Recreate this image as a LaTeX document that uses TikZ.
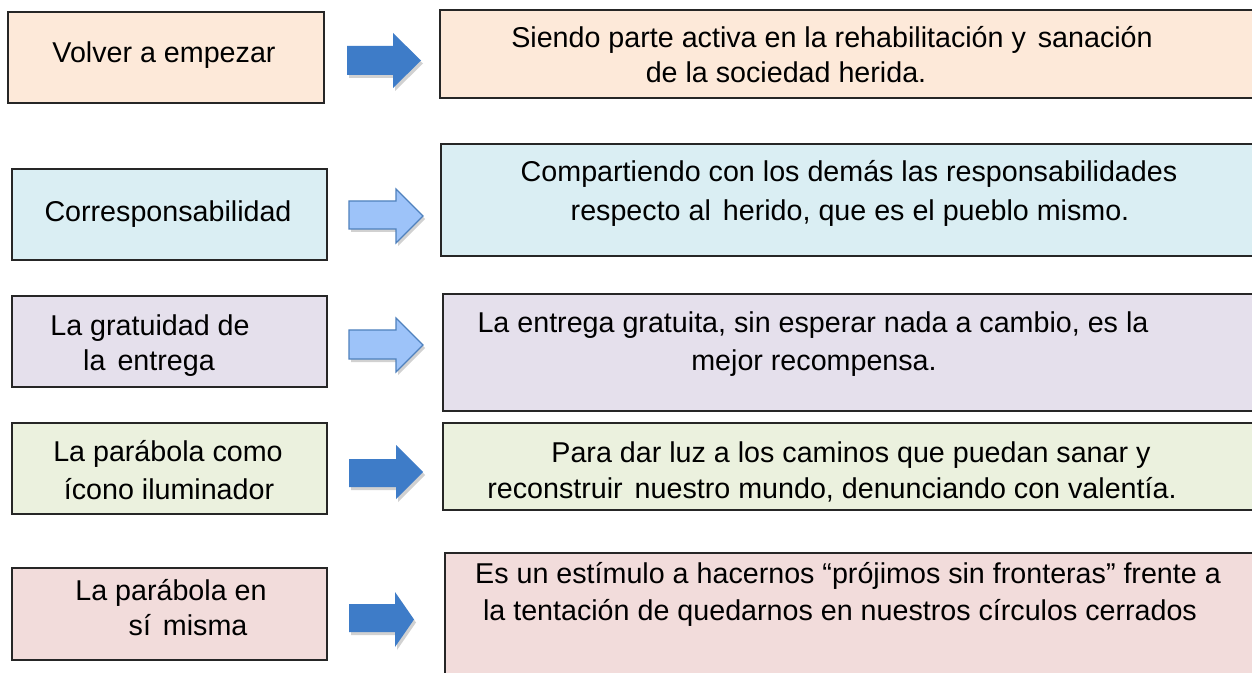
\documentclass[tikz,border=0pt]{standalone}
\usepackage{fontspec}
\setmainfont{Liberation Sans}
\usetikzlibrary{fit}
\definecolor{peach}{HTML}{FDE9D9}
\definecolor{paleblue}{HTML}{DAEEF3}
\definecolor{lavender}{HTML}{E5E0EC}
\definecolor{palegreen}{HTML}{EBF1DE}
\definecolor{palepink}{HTML}{F2DCDB}
\definecolor{darkarrow}{HTML}{3E7CC8}
\definecolor{lightarrow}{HTML}{9DC3F9}
\definecolor{arrowedge}{HTML}{4F81BD}
\definecolor{boxedge}{HTML}{262626}
\tikzset{
  box/.style={draw=boxedge, line width=1.1pt, inner sep=0pt, rectangle},
  txt/.style={anchor=base, inner sep=0pt, font=\fontsize{21.5pt}{26pt}\selectfont, text=black},
  darrow/.style={fill=darkarrow, draw=none},
  larrow/.style={fill=lightarrow, draw=arrowedge, line width=0.9pt, line join=miter},
  ashadow/.style={fill=black, opacity=0.18, draw=none}
}
\newcommand\wsp{\ \hspace{3pt}}
% #1 shaft left, #2 head base, #3 tip, #4 shaft top, #5 shaft bottom, #6 head top, #7 head bottom
\newcommand\myblockarrow[8]{%
  \path[ashadow] (#1+2,#4+3) -- (#2+2,#4+3) -- (#2+2,#6+3) -- (#3+2,{(#6+#7)/2+3}) -- (#2+2,#7+3) -- (#2+2,#5+3) -- (#1+2,#5+3) -- cycle;
  \path[#8] (#1,#4) -- (#2,#4) -- (#2,#6) -- (#3,{(#6+#7)/2}) -- (#2,#7) -- (#2,#5) -- (#1,#5) -- cycle;
}
\begin{document}
\begin{tikzpicture}[x=0.75pt,y=-0.75pt]
\useasboundingbox (0,0) rectangle (1252,673);
\fill[white] (0,0) rectangle (1252,673);

% Row 1
\node[box, fill=peach, fit={(8,12) (324,103)}] (L1) {};
\node[box, fill=peach, fit={(440,10) (1262,98)}] (R1) {};
\node[txt] (L1a) at (164,63) {Volver a empezar};
\node[txt] (R1a) at (832,48) {Siendo parte activa en la rehabilitación y\wsp sanación};
\node[txt] (R1b) at (786,83) {de la sociedad herida.};
\myblockarrow{347}{393}{421}{46}{75}{33}{88}{darrow}

% Row 2
\node[box, fill=paleblue, fit={(12,169) (327,260)}] (L2) {};
\node[box, fill=paleblue, fit={(441,144) (1262,256)}] (R2) {};
\node[txt] (L2a) at (168,222) {Corresponsabilidad};
\node[txt] (R2a) at (849,182) {Compartiendo con los demás las responsabilidades};
\node[txt] (R2b) at (850,221) {respecto al\wsp herido, que es el pueblo mismo.};
\myblockarrow{349}{396}{423}{201}{229}{189}{243}{larrow}

% Row 3
\node[box, fill=lavender, fit={(12,296) (327,387)}] (L3) {};
\node[box, fill=lavender, fit={(443,294) (1262,411)}] (R3) {};
\node[txt] (L3a) at (150,335) {La gratuidad de};
\node[txt] (L3b) at (149,370) {la\wsp entrega};
\node[txt] (R3a) at (813,333) {La entrega gratuita, sin esperar nada a cambio, es la};
\node[txt] (R3b) at (814,370) {mejor recompensa.};
\myblockarrow{349}{396}{423}{330}{359}{318}{372}{larrow}

% Row 4
\node[box, fill=palegreen, fit={(12,423) (327,514)}] (L4) {};
\node[box, fill=palegreen, fit={(443,423) (1262,510)}] (R4) {};
\node[txt] (L4a) at (168,461) {La parábola como};
\node[txt] (L4b) at (169,499) {ícono iluminador};
\node[txt] (R4a) at (851,462) {Para dar luz a los caminos que puedan sanar y};
\node[txt] (R4b) at (832,498) {reconstruir\wsp nuestro mundo, denunciando con valentía.};
\myblockarrow{349}{396}{423}{459}{487}{445}{499}{darrow}

% Row 5
\node[box, fill=palepink, fit={(12,568) (327,660)}] (L5) {};
\node[box, fill=palepink, fit={(445,553) (1262,690)}] (R5) {};
\node[txt] (L5a) at (171,600) {La parábola en};
\node[txt] (L5b) at (188,635) {sí\wsp misma};
\node[txt] (R5a) at (848,583) {Es un estímulo a hacernos “prójimos sin fronteras” frente a};
\node[txt] (R5b) at (840,620) {la tentación de quedarnos en nuestros círculos cerrados};
\myblockarrow{349}{395}{414}{604}{632}{592}{647}{darrow}
\end{tikzpicture}
\end{document}
